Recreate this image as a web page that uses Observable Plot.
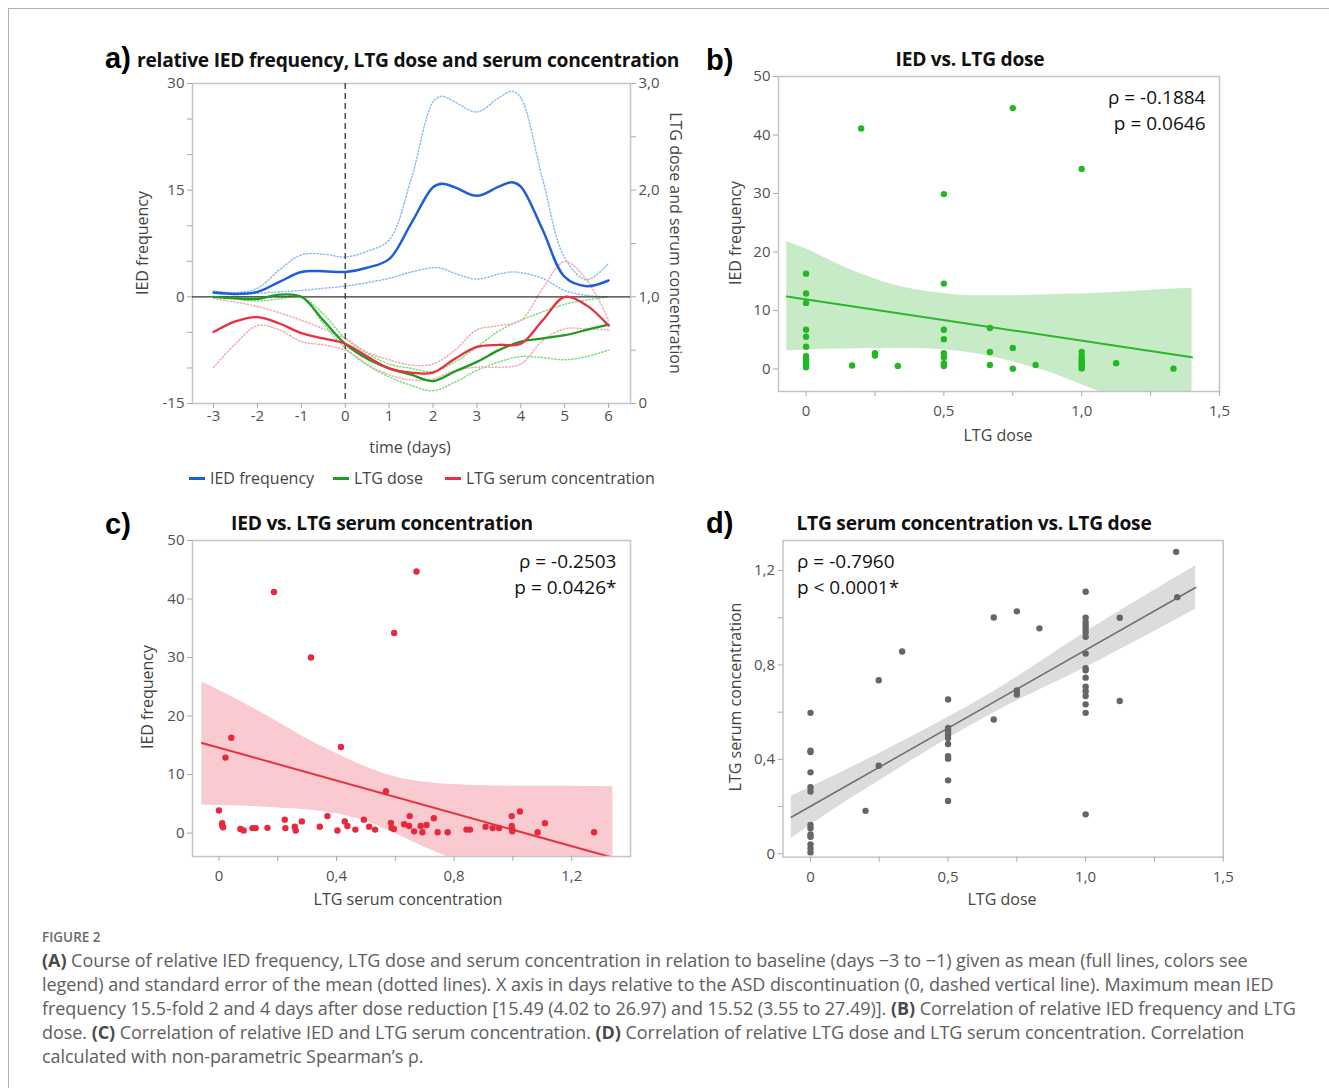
<!DOCTYPE html>
<html>
<head>
<meta charset="utf-8">
<script src="https://cdn.jsdelivr.net/npm/d3@7"></script>
<script src="https://cdn.jsdelivr.net/npm/@observablehq/plot@0.6"></script>
<style>
  html, body { margin:0; padding:0; background:#fff; }
  #page { position:relative; width:1329px; height:1088px; overflow:hidden; font-family:"Open Sans", sans-serif; }
  .abs { position:absolute; white-space:nowrap; line-height:1; }
  .panel { position:absolute; }
  .cap { position:absolute; left:42px; font-family:"Open Sans", sans-serif; font-size:18px; line-height:1.3; color:#5e5e5e; white-space:nowrap; letter-spacing:-0.05px; }
  .cap b { color:#4a4a4a; font-weight:700; }
</style>
</head>
<body>
<div id="page">
  <div class="abs" style="left:8px;top:8px;width:1330px;height:1090px;border-top:1.5px solid #b0b0b0;border-left:1.5px solid #b0b0b0;"></div>
</div>
<script>
// ---------- Panel a: time course ----------
const iedDays  = [-3,-2.5,-2,-1.5,-1,-0.5,0,0.5,1,1.5,2,2.2,2.5,3,3.5,3.8,4,4.5,5,5.5,6];
const iedMean  = [0.6,0.4,0.7,2.1,3.5,3.6,3.5,4.1,5.3,10.3,15.4,15.9,15.4,14.2,15.5,16.1,15.5,9.4,2.8,1.5,2.3];
const iedUpper = [0.8,0.6,1.2,3.8,5.9,6.0,5.6,6.4,8.0,16.5,27.4,28.2,27.4,26.0,28.0,28.9,28.0,16.5,5.5,2.4,4.7];
const iedLower = [0.7,0.5,0.5,0.7,0.9,1.2,1.5,2.0,2.6,3.5,4.1,4.0,3.3,2.5,3.2,3.5,3.4,2.6,0.9,0.2,0.0];

const days       = [-3,-2.5,-2,-1.5,-1,-0.5,0,0.5,1,1.5,2,2.5,3,3.5,4,4.5,5,5.5,6];
const doseMean   = [1.0,0.985,0.98,1.02,1.0,0.78,0.56,0.42,0.33,0.27,0.21,0.30,0.39,0.50,0.58,0.61,0.64,0.69,0.74];
const doseUpper  = [1.0,1.0,1.0,1.0,1.0,0.84,0.61,0.47,0.37,0.33,0.30,0.39,0.53,0.68,0.78,0.86,0.93,0.97,1.0];
const doseLower  = [1.0,0.98,0.96,0.98,1.0,0.75,0.52,0.36,0.25,0.17,0.12,0.20,0.31,0.39,0.44,0.43,0.41,0.44,0.5];
const serumMean  = [0.67,0.77,0.81,0.75,0.66,0.61,0.56,0.44,0.33,0.29,0.29,0.42,0.53,0.55,0.56,0.78,1.0,0.92,0.73];
const serumUpper = [0.985,0.95,0.91,0.85,0.78,0.70,0.61,0.48,0.41,0.36,0.37,0.50,0.69,0.73,0.78,1.08,1.33,1.16,0.78];
const serumLower = [0.34,0.56,0.73,0.69,0.58,0.55,0.50,0.37,0.27,0.22,0.23,0.31,0.34,0.34,0.37,0.59,0.70,0.70,0.69];

const dayTicks   = [-3,-2,-1,0,1,2,3,4,5,6];
const iedTicks   = [-15,-10,-5,0,5,10,15,20,25,30];
const iedLabeled = [-15,0,15,30];
const ratioTicks = [0,0.5,1,1.5,2,2.5,3];
const ratioLabeled = [0,1,2,3];

// ---------- Panel b: IED vs LTG dose ----------
const bX = [0,0,0,0,0,0,0,0,0,0,0,0, 0.167, 0.2, 0.25,0.25, 0.333,
            0.5,0.5,0.5,0.5,0.5,0.5,0.5,0.5,0.5, 0.667,0.667,0.667, 0.75,0.75,0.75, 0.833,
            1,1,1,1,1,1,1,1, 1.125, 1.333];
const bY = [16.3,12.9,11.3,6.7,5.5,3.8,2.2,1.8,1.4,1.0,0.6,0.3, 0.6, 41.1, 2.7,2.3, 0.5,
            29.9,14.6,6.7,5.1,2.7,2.0,1.0,0.7,0.5, 7.0,2.9,0.7, 44.6,3.6,0.06, 0.7,
            34.2,2.9,2.2,1.7,1.3,0.9,0.5,0.1, 1.0, 0.06];
const bFitX = [-0.07, 1.4];
const bFitY = [12.4, 2.0];
const bBandX  = [-0.07,0,0.14,0.25,0.38,0.5,0.63,0.75,0.88,1.0,1.13,1.26,1.4];
const bBandHi = [21.8,20.5,17.4,15.4,13.7,12.9,12.5,12.5,12.7,12.8,13.1,13.5,13.8];
const bBandLo = [3.1,3.25,3.4,3.5,3.5,3.3,2.5,1.2,-0.5,-2.7,-5.0,-7.5,-10.0];
const bStats = ["ρ = -0.1884", "p = 0.0646"];

// ---------- Panel c: IED vs LTG serum concentration ----------
const cX = [0,0.011,0.011,0.014,0.073,0.084,0.114,0.125,0.165,0.224,0.226,0.258,0.261,0.282,0.343,0.369,
            0.403,0.428,0.437,0.464,0.493,0.511,0.531,0.568,0.585,0.587,0.595,0.630,0.647,0.649,0.664,
            0.686,0.692,0.706,0.731,0.744,0.778,0.842,0.854,0.907,0.931,0.953,0.996,0.996,0.998,0.998,
            1.024,1.084,1.109,1.276, 0.042,0.022,0.187,0.313,0.415,0.596,0.672];
const cY = [3.86,1.7,1.3,1.0,0.7,0.45,0.85,0.85,0.9,2.3,0.85,1.1,0.45,2.0,1.1,2.9,
            0.45,2.0,1.2,0.6,2.3,1.1,0.6,7.15,1.75,0.9,0.7,1.5,1.2,2.9,0.3,
            1.2,0.15,1.4,2.55,0.15,0.15,0.6,0.6,1.1,0.85,0.85,2.9,1.2,0.6,0.3,
            3.7,0.15,1.7,0.15, 16.3,12.9,41.2,30.0,14.7,34.2,44.7];
const cFitX = [-0.058, 1.34];
const cFitY = [15.4, -4.2];
const cBandX  = [-0.058,0,0.1,0.2,0.3,0.4,0.5,0.6,0.7,0.8,0.9,1.0,1.1,1.2,1.34];
const cBandHi = [25.8,24.4,21.8,19.0,16.1,13.6,11.3,9.6,8.7,8.3,8.1,8.0,8.0,8.0,7.9];
const cBandLo = [4.8,4.7,4.6,4.3,4.0,3.3,2.0,-0.1,-2.4,-4.5,-6.5,-8.5,-10.5,-12.5,-15];
const cStats = ["ρ = -0.2503", "p = 0.0426*"];

// ---------- Panel d: serum concentration vs LTG dose ----------
const dX = [0,0,0,0,0,0,0,0,0,0,0,0,0, 0.2, 0.248,0.248, 0.333,
            0.5,0.5,0.5,0.5,0.5,0.5,0.5,0.5,0.5,0.5, 0.666,0.666, 0.75,0.75,0.75, 0.832,
            1,1,1,1,1,1,1,1,1,1,1,1,1,1,1,1,1, 1.124,1.124, 1.333,1.329];
const dY = [0.597,0.437,0.431,0.345,0.282,0.264,0.122,0.108,0.082,0.072,0.04,0.023,0.006, 0.182, 0.735,0.373, 0.857,
            0.654,0.533,0.519,0.505,0.491,0.465,0.413,0.403,0.311,0.224, 1.001,0.569, 1.027,0.692,0.675, 0.955,
            1.11,1.0,0.98,0.966,0.952,0.938,0.919,0.848,0.786,0.777,0.746,0.708,0.689,0.668,0.633,0.597,0.167, 1.0,0.647, 1.087,1.279];
const dFitX = [-0.07, 1.4];
const dFitY = [0.155, 1.128];
const dBandX  = [-0.07,0,0.25,0.5,0.65,0.8,1.0,1.2,1.4];
const dBandHi = [0.245,0.282,0.425,0.578,0.677,0.786,0.939,1.081,1.220];
const dBandLo = [0.065,0.122,0.309,0.488,0.587,0.676,0.789,0.911,1.036];
const dStats = ["ρ = -0.7960", "p < 0.0001*"];

const doseTicks  = [0,0.25,0.5,0.75,1,1.25,1.5];
const doseLabeled = [0,0.5,1,1.5];
const serumXTicks = [0,0.2,0.4,0.6,0.8,1.0,1.2];
const serumXLabeled = [0,0.4,0.8,1.2];
const iedYTicks = [0,10,20,30,40,50];
const concYTicks = [0,0.2,0.4,0.6,0.8,1.0,1.2];
const concYLabeled = [0,0.4,0.8,1.2];

// ---------- helpers ----------
const FONT = "'Open Sans', sans-serif";
const page = document.getElementById("page");
const comma = d => d === 0 ? "0" : d.toFixed(1).replace(".", ",");
const near = (d, arr) => arr.some(v => Math.abs(v - d) < 1e-9);
const fmtLabeled = (arr, f) => d => near(d, arr) ? f(d) : "";

function place(svg, left, top) {
  const w = document.createElement("div");
  w.className = "panel";
  w.style.left = left + "px"; w.style.top = top + "px";
  w.appendChild(svg);
  page.appendChild(w);
}
function text(str, x, y, style = "", anchor = "center", rotate = 0) {
  const el = document.createElement("div");
  el.className = "abs";
  el.innerHTML = str;
  const tx = anchor === "center" ? "-50%" : anchor === "end" ? "-100%" : "0";
  el.style.cssText += `left:${x}px;top:${y}px;transform:translate(${tx},-50%) rotate(${rotate}deg);transform-origin:${anchor==="center"?"50% 50%":"0 50%"};` + style;
  page.appendChild(el);
  return el;
}
const axisStyle = {fontFamily: FONT, fontSize: "15px", color: "#505050", background: "transparent", overflow: "visible"};

// ---------- Panel a ----------
const toLeft = r => (r - 1) * 15;
const iedTable = iedDays.map((d, i) => ({day: d, mean: iedMean[i], up: iedUpper[i], lo: iedLower[i]}));
const ltgTable = days.map((d, i) => ({day: d, dose: doseMean[i], doseUp: doseUpper[i], doseLo: doseLower[i],
  serum: serumMean[i], serumUp: serumUpper[i], serumLo: serumLower[i]}));
const CURVE = "catmull-rom";
const dotted = {strokeWidth: 1.5, strokeDasharray: "1.2,2.2", strokeLinecap: "round", curve: CURVE};

const plotA = Plot.plot({
  width: 600, height: 360, marginLeft: 92, marginRight: 70, marginTop: 13, marginBottom: 27,
  x: {domain: [-3.48, 6.5]},
  y: {domain: [-15, 30]},
  style: axisStyle,
  marks: [
    Plot.frame({stroke: "#c4c4c4", strokeWidth: 1.5}),
    Plot.axisX({ticks: dayTicks, tickSize: 5, tickPadding: 2, stroke: "#aaa", label: null, tickFormat: d => `${d}`}),
    Plot.axisY({ticks: iedTicks, tickSize: 5, tickPadding: 3, stroke: "#aaa", label: null,
      tickFormat: fmtLabeled(iedLabeled, d => `${d}`)}),
    Plot.axisY({anchor: "right", ticks: ratioTicks.map(toLeft), tickSize: 5, tickPadding: 3, stroke: "#aaa", label: null,
      tickFormat: d => { const r = d / 15 + 1; return near(r, ratioLabeled) ? comma(r) : ""; }}),
    Plot.line(iedTable, {x: "day", y: "up", stroke: "#8cbcf2", ...dotted}),
    Plot.line(iedTable, {x: "day", y: "lo", stroke: "#8cbcf2", ...dotted}),
    Plot.line(ltgTable, {x: "day", y: d => toLeft(d.doseUp), stroke: "#78e078", ...dotted}),
    Plot.line(ltgTable, {x: "day", y: d => toLeft(d.doseLo), stroke: "#78e078", ...dotted}),
    Plot.line(ltgTable, {x: "day", y: d => toLeft(d.serumUp), stroke: "#f5a8b0", ...dotted}),
    Plot.line(ltgTable, {x: "day", y: d => toLeft(d.serumLo), stroke: "#f5a8b0", ...dotted}),
    Plot.ruleY([0], {stroke: "#333", strokeWidth: 1.3}),
    Plot.ruleX([0], {stroke: "#333", strokeWidth: 1.3, strokeDasharray: "6,4"}),
    Plot.line(ltgTable, {x: "day", y: d => toLeft(d.dose), stroke: "#1f9a22", strokeWidth: 2.3, curve: CURVE}),
    Plot.line(ltgTable, {x: "day", y: d => toLeft(d.serum), stroke: "#e8303f", strokeWidth: 2.3, curve: CURVE}),
    Plot.line(iedTable, {x: "day", y: "mean", stroke: "#1c5fd8", strokeWidth: 2.5, curve: CURVE})
  ]
});
place(plotA, 100, 70);

// ---------- scatter panel factory ----------
function scatter({xs, ys, xDomain, yDomain, fitX, fitY, bandX, bandHi, bandLo, stats, statsAnchor,
                  bandFill, lineStroke, lineWidth, dotFill, xTicks, xLabeled, yTicks, yLabeled, yFmt, margins}) {
  const pts = xs.map((x, i) => ({x, y: ys[i]}));
  const band = bandX.map((x, i) => ({x, hi: bandHi[i], lo: bandLo[i]}));
  const fit = fitX.map((x, i) => ({x, y: fitY[i]}));
  const right = statsAnchor === "top-right";
  return Plot.plot({
    width: 560, height: 400, ...margins,
    x: {domain: xDomain}, y: {domain: yDomain},
    style: axisStyle,
    marks: [
      Plot.areaY(band, {x: "x", y1: "lo", y2: "hi", fill: bandFill, curve: "monotone-x", clip: true}),
      Plot.line(fit, {x: "x", y: "y", stroke: lineStroke, strokeWidth: lineWidth, clip: true}),
      Plot.dot(pts, {x: "x", y: "y", r: 3.2, fill: dotFill, stroke: "none"}),
      Plot.frame({stroke: "#c4c4c4", strokeWidth: 1.5}),
      Plot.axisX({ticks: xTicks, tickSize: 5, tickPadding: 9, stroke: "#aaa", label: null,
        tickFormat: fmtLabeled(xLabeled, comma)}),
      Plot.axisY({ticks: yTicks, tickSize: 5, tickPadding: 3, stroke: "#aaa", label: null,
        tickFormat: fmtLabeled(yLabeled, yFmt)}),
      Plot.text([stats[0]], {text: d => d, frameAnchor: statsAnchor, textAnchor: right ? "end" : "start",
        lineAnchor: "middle", dx: right ? -14 : 14, dy: 21, fontSize: 19, fill: "#111"}),
      Plot.text([stats[1]], {text: d => d, frameAnchor: statsAnchor, textAnchor: right ? "end" : "start",
        lineAnchor: "middle", dx: right ? -14 : 14, dy: 47, fontSize: 19, fill: "#111"})
    ]
  });
}

place(scatter({xs: bX, ys: bY, xDomain: [-0.1, 1.5], yDomain: [-3.85, 50], fitX: bFitX, fitY: bFitY,
  bandX: bBandX, bandHi: bBandHi, bandLo: bBandLo, stats: bStats, statsAnchor: "top-right",
  bandFill: "#c6ebc6", lineStroke: "#2eb52e", lineWidth: 2, dotFill: "#22b822",
  xTicks: doseTicks, xLabeled: doseLabeled, yTicks: iedYTicks, yLabeled: iedYTicks, yFmt: d => `${d}`,
  margins: {marginLeft: 78, marginRight: 41, marginTop: 31, marginBottom: 54}}), 700, 45);

place(scatter({xs: cX, ys: cY, xDomain: [-0.09, 1.4], yDomain: [-4, 50], fitX: cFitX, fitY: cFitY,
  bandX: cBandX, bandHi: cBandHi, bandLo: cBandLo, stats: cStats, statsAnchor: "top-right",
  bandFill: "#f9cbd1", lineStroke: "#e8303f", lineWidth: 2, dotFill: "#e8283c",
  xTicks: serumXTicks, xLabeled: serumXLabeled, yTicks: iedYTicks, yLabeled: iedYTicks, yFmt: d => `${d}`,
  margins: {marginLeft: 92, marginRight: 30, marginTop: 30, marginBottom: 54}}), 100, 510);

place(scatter({xs: dX, ys: dY, xDomain: [-0.1, 1.5], yDomain: [-0.0144, 1.327], fitX: dFitX, fitY: dFitY,
  bandX: dBandX, bandHi: dBandHi, bandLo: dBandLo, stats: dStats, statsAnchor: "top-left",
  bandFill: "#dcdcdc", lineStroke: "#707070", lineWidth: 1.6, dotFill: "#666",
  xTicks: doseTicks, xLabeled: doseLabeled, yTicks: concYTicks, yLabeled: concYLabeled, yFmt: comma,
  margins: {marginLeft: 82.5, marginRight: 37.3, marginTop: 30, marginBottom: 53.3}}), 700, 510);

// ---------- titles, axis labels, legend ----------
const LBL = "font-family:'Liberation Sans',Arial,sans-serif;font-weight:700;font-size:29px;color:#000;";
const TTL = `font-family:${FONT};font-weight:700;font-size:19.2px;color:#111;letter-spacing:-0.25px;`;
const AX = `font-family:${FONT};font-size:16px;color:#444;`;

text("a)", 105, 58, LBL, "start");
text("relative IED frequency, LTG dose and serum concentration", 137, 60, TTL, "start");
text("b)", 706, 60, LBL, "start");
text("IED vs. LTG dose", 970, 59, TTL);
text("c)", 105, 524, LBL, "start");
text("IED vs. LTG serum concentration", 382, 523, TTL);
text("d)", 706, 523, LBL, "start");
text("LTG serum concentration vs. LTG dose", 974, 523, TTL);

text("IED frequency", 142, 243, AX, "center", -90);
text("LTG dose and serum concentration", 676, 243, AX, "center", 90);
text("time (days)", 410, 447, AX);
text("IED frequency", 735, 233, AX, "center", -90);
text("LTG dose", 998, 435, AX);
text("IED frequency", 147, 697, AX, "center", -90);
text("LTG serum concentration", 408, 899, AX);
text("LTG serum concentration", 735, 697, AX, "center", -90);
text("LTG dose", 1002, 899, AX);

const legendItems = [
  {label: "IED frequency", color: "#1c5fd8", x: 189},
  {label: "LTG dose", color: "#1f9a22", x: 333},
  {label: "LTG serum concentration", color: "#e8303f", x: 445}
];
for (const it of legendItems) {
  const sw = document.createElement("div");
  sw.className = "abs";
  sw.style.cssText = `left:${it.x}px;top:477px;width:16px;height:2.5px;background:${it.color};`;
  page.appendChild(sw);
  text(it.label, it.x + 21, 478, AX, "start");
}

// ---------- caption ----------
const captionLines = [
  "<b>(A)</b> Course of relative IED frequency, LTG dose and serum concentration in relation to baseline (days \u22123 to \u22121) given as mean (full lines, colors see",
  "legend) and standard error of the mean (dotted lines). X axis in days relative to the ASD discontinuation (0, dashed vertical line). Maximum mean IED",
  "frequency 15.5-fold 2 and 4 days after dose reduction [15.49 (4.02 to 26.97) and 15.52 (3.55 to 27.49)]. <b>(B)</b> Correlation of relative IED frequency and LTG",
  "dose. <b>(C)</b> Correlation of relative IED and LTG serum concentration. <b>(D)</b> Correlation of relative LTG dose and LTG serum concentration. Correlation",
  "calculated with non-parametric Spearman\u2019s \u03c1."
];
text("FIGURE 2", 42, 938, "font-family:'Open Sans',sans-serif;font-size:13.5px;font-weight:600;color:#6a6a6a;", "start");
captionLines.forEach((ln, i) => {
  const el = document.createElement("div");
  el.className = "cap";
  el.style.top = (961 + 24 * i - 12) + "px";
  el.innerHTML = ln;
  page.appendChild(el);
});
</script>
</body>
</html>
